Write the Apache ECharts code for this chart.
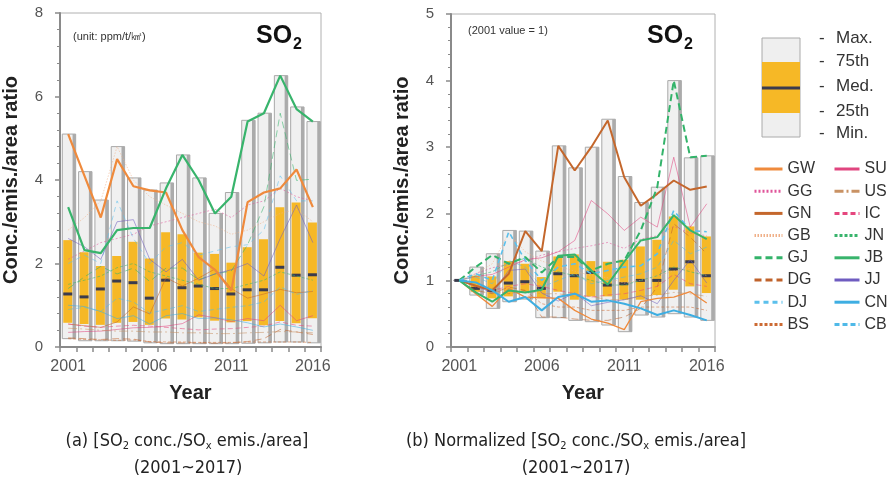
<!DOCTYPE html>
<html><head><meta charset="utf-8">
<script src="https://cdn.jsdelivr.net/npm/echarts@6/dist/echarts.min.js"></script>
<style>html,body{margin:0;padding:0;background:#fff}#c{width:896px;height:489px}</style>
</head><body><div id="c"></div>
<script>
const years = ['2001','2002','2003','2004','2005','2006','2007','2008','2009','2010','2011','2012','2013','2014','2015','2016'];

// (a) box statistics
const maxL = [5.1, 4.2, 3.52, 4.8, 4.05, 3.76, 3.93, 4.6, 4.05, 3.2, 3.7, 5.43, 5.6, 6.5, 5.75, 5.4];
const q3L  = [2.56, 2.27, 1.94, 2.18, 2.52, 2.12, 2.75, 2.7, 2.26, 2.23, 2.02, 2.39, 2.58, 3.35, 3.46, 2.98];
const medL = [1.27, 1.2, 1.39, 1.58, 1.54, 1.17, 1.6, 1.42, 1.46, 1.4, 1.27, 1.37, 1.37, 1.91, 1.72, 1.73];
const q1L  = [0.58, 0.55, 0.53, 0.58, 0.6, 0.53, 0.68, 0.66, 0.71, 0.63, 0.59, 0.62, 0.52, 0.62, 0.57, 0.69];
const minL = [0.2, 0.15, 0.15, 0.15, 0.14, 0.1, 0.08, 0.08, 0.08, 0.08, 0.08, 0.09, 0.1, 0.12, 0.12, 0.1];

// (b) box statistics
const maxR = [1, 1.2, 1.4, 1.75, 1.74, 1.44, 3.02, 2.69, 3.0, 3.42, 2.56, 2.17, 2.4, 4.0, 2.84, 2.87];
const q3R  = [1, 1.07, 1.06, 1.29, 1.25, 1.05, 1.36, 1.39, 1.29, 1.28, 1.31, 1.51, 1.61, 1.96, 1.81, 1.66];
const medR = [1, 0.88, 0.85, 0.96, 0.98, 0.88, 1.1, 1.07, 1.12, 0.93, 0.95, 1.0, 1.0, 1.17, 1.28, 1.07];
const q1R  = [1, 0.83, 0.73, 0.76, 0.82, 0.73, 0.83, 0.71, 0.76, 0.76, 0.71, 0.71, 0.78, 0.86, 0.91, 0.81];
const minR = [1, 0.78, 0.58, 0.68, 0.72, 0.44, 0.44, 0.4, 0.38, 0.33, 0.23, 0.48, 0.45, 0.5, 0.45, 0.4];

// (a) region lines
const GW_a = [5.1, 4.1, 3.1, 4.5, 3.85, 3.75, 3.7, 2.8, 2.15, 1.85, 1.35, 3.47, 3.7, 3.8, 4.25, 3.35];
const GG_a = [2.1, 2.3, 2.5, 2.6, 2.7, 2.9, 3.0, 3.1, 3.2, 3.3, 3.1, 3.4, 3.5, 3.8, 3.6, 3.5];
const GN_a = [0.55, 0.51, 0.47, 0.6, 0.96, 0.79, 1.66, 1.46, 1.65, 1.87, 1.4, 1.17, 1.27, 1.38, 1.3, 1.33];
const GB_a = [2.8, 3.1, 3.5, 4.8, 4.0, 3.6, 3.4, 3.2, 3.0, 2.9, 2.7, 2.8, 3.0, 3.2, 3.3, 3.0];
const GJ_a = [1.4, 1.68, 1.93, 1.75, 1.89, 1.57, 1.89, 1.89, 1.61, 1.75, 1.82, 2.45, 3.36, 5.6, 3.99, 4.02];
const DG_a = [0.22, 0.2, 0.18, 0.2, 0.19, 0.12, 0.1, 0.1, 0.1, 0.09, 0.1, 0.13, 0.2, 0.42, 0.36, 0.3];
const DJ_a = [2.0, 2.2, 2.0, 3.5, 2.6, 2.0, 2.4, 2.5, 2.2, 2.3, 2.4, 2.45, 2.8, 4.1, 3.5, 3.5];
const BS_a = [0.2, 0.18, 0.17, 0.16, 0.17, 0.13, 0.12, 0.12, 0.11, 0.11, 0.11, 0.12, 0.12, 0.12, 0.12, 0.11];
const SU_a = [0.35, 0.37, 0.38, 0.42, 0.46, 0.47, 0.5, 0.56, 0.77, 0.7, 0.61, 0.68, 0.63, 1.0, 0.63, 0.75];
const US_a = [0.45, 0.43, 0.4, 0.38, 0.38, 0.36, 0.36, 0.34, 0.34, 0.32, 0.32, 0.34, 0.35, 0.37, 0.36, 0.34];
const IC_a = [0.55, 0.5, 0.47, 0.5, 0.52, 0.5, 0.47, 0.44, 0.41, 0.43, 0.44, 0.47, 0.5, 0.6, 0.52, 0.5];
const JN_a = [1.5, 1.6, 1.7, 1.9, 2.0, 1.8, 1.7, 1.6, 1.5, 1.4, 1.4, 1.5, 1.6, 1.8, 1.7, 1.6];
const JB_a = [3.35, 2.32, 2.25, 2.8, 2.85, 2.85, 3.8, 4.6, 4.0, 3.2, 3.6, 5.4, 5.6, 6.5, 5.7, 5.4];
const JJ_a = [2.6, 2.4, 2.1, 3.0, 3.05, 2.1, 1.8, 2.1, 1.6, 1.75, 1.85, 2.0, 1.7, 2.6, 3.4, 2.5];
const CN_a = [1.0, 0.97, 0.85, 0.68, 0.75, 0.55, 0.75, 0.8, 0.68, 0.7, 0.65, 0.58, 0.48, 0.55, 0.48, 0.4];
const CB_a = [0.9, 0.95, 0.85, 1.17, 1.08, 0.81, 0.9, 0.99, 0.85, 0.9, 0.95, 0.99, 1.08, 1.44, 1.26, 1.35];

// (b) normalized lines
const GW_b = [1, 0.8, 0.61, 0.88, 0.75, 0.74, 0.73, 0.55, 0.42, 0.36, 0.26, 0.68, 0.73, 0.75, 0.83, 0.66];
const GG_b = [1, 1.1, 1.19, 1.24, 1.29, 1.38, 1.43, 1.48, 1.52, 1.57, 1.48, 1.62, 1.67, 1.81, 1.71, 1.67];
const GN_b = [1, 0.92, 0.85, 1.1, 1.74, 1.44, 3.02, 2.65, 3.0, 3.4, 2.55, 2.12, 2.3, 2.5, 2.36, 2.41];
const GB_b = [1, 1.1, 1.25, 1.71, 1.43, 1.29, 1.21, 1.14, 1.07, 1.04, 0.96, 1.0, 1.07, 1.14, 1.18, 1.07];
const GJ_b = [1, 1.2, 1.38, 1.25, 1.35, 1.12, 1.35, 1.35, 1.15, 1.25, 1.3, 1.75, 2.4, 4.0, 2.85, 2.87];
const DG_b = [1, 0.85, 0.8, 0.9, 0.85, 0.45, 0.45, 0.42, 0.4, 0.4, 0.45, 0.58, 0.9, 1.85, 1.65, 1.4];
const DJ_b = [1, 1.1, 1.0, 1.73, 1.3, 1.0, 1.2, 1.25, 1.1, 1.15, 1.2, 1.22, 1.4, 2.05, 1.75, 1.73];
const BS_b = [1, 0.9, 0.85, 0.8, 0.85, 0.65, 0.6, 0.6, 0.55, 0.55, 0.55, 0.6, 0.6, 0.6, 0.6, 0.55];
const SU_b = [1, 1.06, 1.09, 1.2, 1.31, 1.34, 1.43, 1.6, 2.2, 2.0, 1.75, 1.95, 1.8, 2.85, 1.8, 2.15];
const US_b = [1, 0.96, 0.89, 0.84, 0.84, 0.8, 0.8, 0.76, 0.76, 0.71, 0.71, 0.76, 0.78, 0.82, 0.8, 0.76];
const IC_b = [1, 0.91, 0.85, 0.91, 0.95, 0.91, 0.85, 0.8, 0.75, 0.78, 0.8, 0.85, 0.91, 1.09, 0.95, 0.91];
const JN_b = [1, 1.07, 1.13, 1.27, 1.33, 1.2, 1.13, 1.07, 1.0, 0.93, 0.93, 1.0, 1.07, 1.2, 1.13, 1.07];
const JB_b = [1, 0.82, 0.68, 0.85, 0.82, 0.86, 1.37, 1.39, 1.15, 0.94, 1.28, 1.6, 1.65, 1.98, 1.75, 1.62];
const JJ_b = [1, 0.92, 0.81, 1.15, 1.17, 0.81, 0.69, 0.81, 0.62, 0.67, 0.71, 0.77, 0.65, 1.0, 1.31, 0.96];
const CN_b = [1, 0.97, 0.85, 0.68, 0.75, 0.55, 0.75, 0.8, 0.68, 0.7, 0.65, 0.58, 0.48, 0.55, 0.48, 0.4];
const CB_b = [1, 1.05, 0.95, 1.3, 1.2, 0.9, 1.0, 1.1, 0.95, 1.0, 1.05, 1.1, 1.2, 1.6, 1.4, 1.5];

const legendCol1 = ['GW','GG','GN','GB','GJ','DG','DJ','BS'];
const legendCol2 = ['SU','US','IC','JN','JB','JJ','CN','CB'];
const boxLabels = ['Max.','75th','Med.','25th','Min.'];

const regionStyle = {
  GW: {color:'#ef8a3c', type:'solid'},
  GG: {color:'#e0559a', type:[2,2]},
  GN: {color:'#c4672c', type:'solid'},
  GB: {color:'#f0b088', type:[1.5,1.5]},
  GJ: {color:'#33b36a', type:[7,4]},
  DG: {color:'#c0622b', type:[7,4]},
  DJ: {color:'#5bc0ec', type:[5,4]},
  BS: {color:'#cc6a33', type:[3,2]},
  SU: {color:'#e0457f', type:'solid'},
  US: {color:'#c99264', type:[9,3,2,3]},
  IC: {color:'#e5477e', type:[5,3]},
  JN: {color:'#38b46c', type:[3,2]},
  JB: {color:'#38b46c', type:'solid'},
  JJ: {color:'#6f5cc0', type:'solid'},
  CN: {color:'#3eaee2', type:'solid'},
  CB: {color:'#4fb9e8', type:[5,3]}
};
const dataA = {GW:GW_a,GG:GG_a,GN:GN_a,GB:GB_a,GJ:GJ_a,DG:DG_a,DJ:DJ_a,BS:BS_a,SU:SU_a,US:US_a,IC:IC_a,JN:JN_a,JB:JB_a,JJ:JJ_a,CN:CN_a,CB:CB_a};
const dataB = {GW:GW_b,GG:GG_b,GN:GN_b,GB:GB_b,GJ:GJ_b,DG:DG_b,DJ:DJ_b,BS:BS_b,SU:SU_b,US:US_b,IC:IC_b,JN:JN_b,JB:JB_b,JJ:JJ_b,CN:CN_b,CB:CB_b};
const widthA = {GW:2.2, JB:2.2};
const widthB = {GN:2, GJ:2, JB:2, CN:2, DJ:1.6, GW:1.3};

function boxRender(params, api) {
  const c = api.value(0);
  const pMax = api.coord([c, api.value(1)]);
  const p3 = api.coord([c, api.value(2)]);
  const pm = api.coord([c, api.value(3)]);
  const p1 = api.coord([c, api.value(4)]);
  const pMin = api.coord([c, api.value(5)]);
  const bw = api.size([1, 0])[0];
  const x = pMax[0];
  const gx0 = x - bw * 0.36, gx1 = x + bw * 0.46;
  const h = Math.max(pMin[1] - pMax[1], 0);
  const ox0 = x - bw * 0.3, ox1 = x + bw * 0.25;
  return {type:'group', children:[
    {type:'rect', shape:{x:gx0, y:pMax[1], width:gx1-gx0, height:h}, style:{fill:'#f0f0f0', stroke:'#a8a8a8', lineWidth:1}},
    {type:'rect', shape:{x:gx1 - bw*0.19, y:pMax[1], width:bw*0.19, height:h}, style:{fill:'#ababab'}},
    {type:'rect', shape:{x:ox0, y:p3[1], width:ox1-ox0, height:Math.max(p1[1]-p3[1],0)}, style:{fill:'#f6b826'}},
    {type:'line', shape:{x1:ox0, y1:pm[1], x2:ox1, y2:pm[1]}, style:{stroke:'#3b3b4d', lineWidth:3}}
  ]};
}

const FONT = "'Liberation Sans', Arial, sans-serif";
const series = [];
series.push({type:'custom', xAxisIndex:0, yAxisIndex:0, z:1, renderItem:boxRender, encode:{x:0, y:[1,2,3,4,5]},
  data: years.map((y,i)=>[i, maxL[i], q3L[i], medL[i], q1L[i], minL[i]]), silent:true});
series.push({type:'custom', xAxisIndex:1, yAxisIndex:1, z:1, renderItem:boxRender, encode:{x:0, y:[1,2,3,4,5]},
  data: years.map((y,i)=>[i, maxR[i], q3R[i], medR[i], q1R[i], minR[i]]), silent:true});

const order = legendCol1.concat(legendCol2);
order.forEach(name => {
  const st = regionStyle[name];
  const wa = widthA[name] || 1, wb = widthB[name] || 1;
  series.push({name, type:'line', xAxisIndex:0, yAxisIndex:0, z: wa > 1 ? 5 : 3, data: dataA[name], symbol:'none', showSymbol:false,
    color: st.color, lineStyle:{color:st.color, width:wa, type:st.type, opacity: wa > 1 ? 1 : 0.55}, silent:true});
  series.push({name, type:'line', xAxisIndex:1, yAxisIndex:1, z: wb > 1 ? 5 : 3, data: dataB[name], symbol:'none', showSymbol:false,
    color: st.color, lineStyle:{color:st.color, width:wb, type:st.type, opacity: wb > 1 ? 1 : 0.55}, silent:true});
});

function xAxisCfg(gi) {
  return {type:'category', gridIndex:gi, data:years, boundaryGap:true,
    name:'Year', nameLocation:'middle', nameGap:36,
    nameTextStyle:{fontSize:20, fontWeight:'bold', color:'#222', fontFamily:FONT},
    axisLine:{lineStyle:{color:'#8a8a8a', width:2}},
    axisTick:{show:true, interval:0, alignWithLabel:false, length:5, lineStyle:{color:'#8a8a8a', width:1.5}},
    axisLabel:{interval:4, fontSize:16, color:'#555', margin:12, fontFamily:FONT},
    splitLine:{show:false}};
}
function yAxisCfg(gi, max, interval) {
  return {type:'value', gridIndex:gi, min:0, max, interval,
    name:'Conc./emis./area ratio', nameLocation:'middle', nameGap:39,
    nameTextStyle:{fontSize:20, fontWeight:'bold', color:'#222', fontFamily:FONT},
    axisLine:{show:true, lineStyle:{color:'#8a8a8a', width:2}},
    axisTick:{show:true, length:5, lineStyle:{color:'#8a8a8a', width:1.5}},
    minorTick:{show:true, splitNumber:5, length:3, lineStyle:{color:'#8a8a8a', width:1}},
    axisLabel:{fontSize:15, color:'#555', margin:17, fontFamily:FONT},
    splitLine:{show:false}};
}

const g = [];
g.push({type:'text', left:73, top:31, style:{text:'(unit: ppm/t/㎢)', font:"11px "+FONT, fill:'#333'}});
g.push({type:'text', left:256, top:24, style:{text:'{a|SO}{b|2}', rich:{a:{fontSize:25, fontWeight:'bold', fontFamily:FONT, fill:'#111'}, b:{fontSize:16, fontWeight:'bold', fontFamily:FONT, fill:'#111', padding:[17,0,0,1]}}}});
g.push({type:'text', left:468, top:25, style:{text:'(2001 value = 1)', font:"11px "+FONT, fill:'#333'}});
g.push({type:'text', left:647, top:24, style:{text:'{a|SO}{b|2}', rich:{a:{fontSize:25, fontWeight:'bold', fontFamily:FONT, fill:'#111'}, b:{fontSize:16, fontWeight:'bold', fontFamily:FONT, fill:'#111', padding:[17,0,0,1]}}}});
// box legend illustration
g.push({type:'rect', shape:{x:762, y:38, width:38, height:99}, style:{fill:'#efefef', stroke:'#aaaaaa', lineWidth:1}});
g.push({type:'rect', shape:{x:762, y:62, width:38, height:51}, style:{fill:'#f6b826'}});
g.push({type:'line', shape:{x1:762, y1:88, x2:800, y2:88}, style:{stroke:'#3b3b4d', lineWidth:3}});
const boxLabelY = [40, 63, 88, 113, 135];
boxLabels.forEach((t, i) => {
  g.push({type:'text', left:819, top:boxLabelY[i]-10, style:{text:'-', font:"17px "+FONT, fill:'#333'}});
  g.push({type:'text', left:836, top:boxLabelY[i]-10, style:{text:t, font:"17px "+FONT, fill:'#333'}});
});
const CAPF = "'Liberation Sans Narrow', 'DejaVu Sans Condensed', sans-serif";
const capRich = {n:{fontSize:18, fontFamily:CAPF, fill:'#222'}, s:{fontSize:11, fontFamily:CAPF, fill:'#222', padding:[10,0,0,0]}};
g.push({type:'text', x:187, y:431, style:{text:'{n|(a) [SO}{s|2}{n| conc./SO}{s|x}{n| emis./area]}', rich:capRich, align:'center', verticalAlign:'top'}});
g.push({type:'text', x:188, y:459, style:{text:'{n|(2001~2017)}', rich:capRich, align:'center', verticalAlign:'top'}});
g.push({type:'text', x:576, y:431, style:{text:'{n|(b) Normalized [SO}{s|2}{n| conc./SO}{s|x}{n| emis./area]}', rich:capRich, align:'center', verticalAlign:'top'}});
g.push({type:'text', x:576, y:459, style:{text:'{n|(2001~2017)}', rich:capRich, align:'center', verticalAlign:'top'}});

function legendCfg(data, left, w) {
  return {data, orient:'vertical', left, top:156, itemWidth:w, itemHeight:14, itemGap:6.2,
    selectedMode:false,
    itemStyle:{opacity:0},
    lineStyle:{width:3, opacity:1},
    textStyle:{fontSize:16, color:'#333', fontFamily:FONT, lineHeight:14}};
}

const chart = echarts.init(document.getElementById('c'), null, {renderer:'canvas'});
chart.setOption({
  animation:false,
  backgroundColor:'#fff',
  grid:[
    {left:58, right:575, top:13, bottom:142, show:true, borderColor:'#b0b0b0', borderWidth:1, backgroundColor:'transparent'},
    {left:451, right:181, top:14, bottom:142, show:true, borderColor:'#b0b0b0', borderWidth:1, backgroundColor:'transparent'}
  ],
  xAxis:[xAxisCfg(0), xAxisCfg(1)],
  yAxis:[yAxisCfg(0, 8, 2), yAxisCfg(1, 5, 1)],
  legend:[legendCfg(legendCol1, 748, 28), legendCfg(legendCol2, 828, 25)],
  graphic:g,
  series
});
</script></body></html>
